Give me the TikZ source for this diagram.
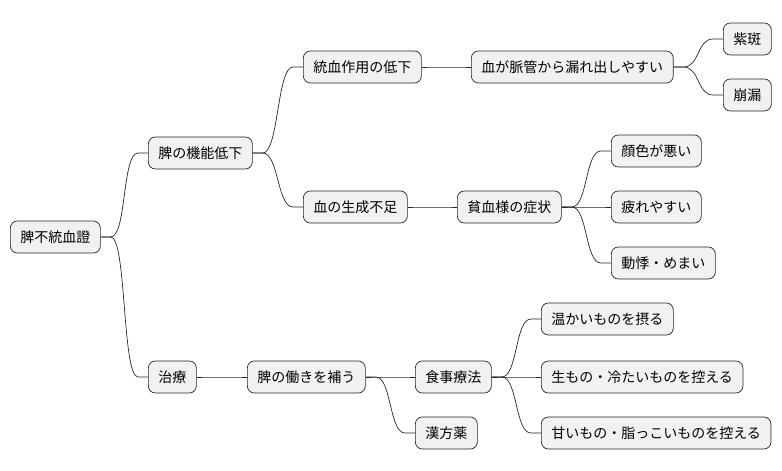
\documentclass[tikz,border=0pt]{standalone}
\usepackage{fontspec}
\newfontfamily\jp{Noto Sans CJK JP}
\begin{document}
\begin{tikzpicture}[x=1pt,y=-1pt,
  topic/.style={draw=black!85,fill={rgb,255:red,241;green,241;blue,241},rounded corners=7pt,
    minimum height=32pt,inner xsep=10pt,anchor=west,font={\jp\fontsize{14}{16}\selectfont},line width=0.7pt},
  link/.style={line width=0.7pt,black!85}]
\useasboundingbox (0,0) rectangle (782,471);
% topics
\node[topic] (root) at (10,237) {脾不統血證};
\node[topic] (spleen) at (148,153) {脾の機能低下};
\node[topic] (hold) at (303,67) {統血作用の低下};
\node[topic] (leak) at (471,67) {血が脈管から漏れ出しやすい};
\node[topic] (purp) at (723,39) {紫斑};
\node[topic] (bleed) at (723,95) {崩漏};
\node[topic] (short) at (303,207) {血の生成不足};
\node[topic] (anem) at (457,207) {貧血様の症状};
\node[topic] (pale) at (611,151) {顔色が悪い};
\node[topic] (tired) at (611,207) {疲れやすい};
\node[topic] (palp) at (611,263) {動悸・めまい};
\node[topic] (treat) at (148,377) {治療};
\node[topic] (tonify) at (247,377) {脾の働きを補う};
\node[topic] (diet) at (415,377) {食事療法};
\node[topic] (herb) at (415,433) {漢方薬};
\node[topic] (warm) at (541,319) {温かいものを摂る};
\node[topic] (cold) at (541,377) {生もの・冷たいものを控える};
\node[topic] (fat) at (541,433) {甘いもの・脂っこいものを控える};
% links
\foreach \a/\b in {root/spleen,root/treat,spleen/hold,spleen/short,hold/leak,leak/purp,leak/bleed,
  short/anem,anem/pale,anem/tired,anem/palp,treat/tonify,tonify/diet,tonify/herb,diet/warm,diet/cold,diet/fat}
  \draw[link] (\a.east) -- ++(10,0) .. controls +(16,0) and +(-16,0) .. ([xshift=-10]\b.west) -- (\b.west);
\end{tikzpicture}
\end{document}
